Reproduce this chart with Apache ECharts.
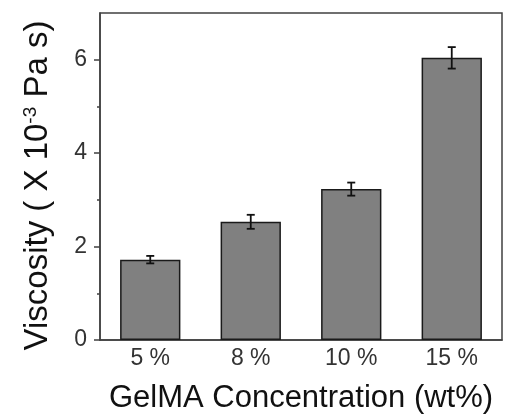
<!DOCTYPE html>
<html>
<head>
<meta charset="utf-8">
<script src="https://cdn.jsdelivr.net/npm/echarts@6/dist/echarts.min.js"></script>
<style>
  html, body { margin: 0; padding: 0; background: #fff; }
  #main { width: 520px; height: 416px; }
</style>
</head>
<body>
<div id="main"></div>
<script>
// GelMA 浓度 vs 粘度
const categories = ['5 %', '8 %', '10 %', '15 %']
const viscosity = [1.72, 2.53, 3.23, 6.04]
const viscosityErr = [0.08, 0.15, 0.14, 0.23]
const yMajorTicks = [0, 2, 4, 6]
const yMinorTicks = [1, 3, 5]

const chart = echarts.init(document.getElementById('main'))

const font = 'Liberation Sans, Arial, sans-serif'
const axisColor = '#404040'

const option = {
  animation: false,
  grid: {
    left: 100,
    right: 18,
    top: 13,
    bottom: 76,
    outerBoundsMode: 'none',
    show: true,
    borderColor: axisColor,
    borderWidth: 1.5,
    backgroundColor: 'transparent'
  },
  xAxis: {
    type: 'category',
    data: categories,
    boundaryGap: true,
    name: 'GelMA Concentration (wt%)',
    nameLocation: 'middle',
    nameGap: 43,
    nameTextStyle: { fontFamily: font, fontSize: 31, color: '#111' },
    axisLine: { lineStyle: { color: axisColor, width: 1.5 } },
    axisTick: { show: false },
    axisLabel: { fontFamily: font, fontSize: 23, color: '#333', margin: 7 },
    splitLine: { show: false }
  },
  yAxis: [
    {
      type: 'value',
      min: 0,
      max: 7,
      interval: 2,
      name: '{t|Viscosity ( X 10}{s|-3}{t| Pa s)}',
      nameLocation: 'middle',
      nameGap: 46,
      nameTextStyle: {
        fontFamily: font,
        color: '#111',
        padding: [0, 18, 0, 0],
        rich: {
          t: { fontFamily: font, fontSize: 33, color: '#111' },
          s: { fontFamily: font, fontSize: 19, color: '#111', verticalAlign: 'top', padding: [0, 0, 14, 0] }
        }
      },
      axisLine: { show: true, lineStyle: { color: axisColor, width: 1.5 } },
      axisTick: { show: true, inside: false, length: 6, customValues: yMajorTicks, lineStyle: { color: axisColor, width: 1.5 } },
      axisLabel: { fontFamily: font, fontSize: 23, color: '#333', margin: 13, customValues: yMajorTicks },
      splitLine: { show: false }
    },
    {
      type: 'value',
      min: 0,
      max: 7,
      interval: 1,
      position: 'left',
      axisLine: { show: false },
      axisTick: { show: true, inside: false, length: 3, customValues: yMinorTicks, lineStyle: { color: axisColor, width: 1.5 } },
      axisLabel: { show: false },
      splitLine: { show: false }
    }
  ],
  series: [
    {
      type: 'bar',
      data: viscosity,
      barWidth: '60%',
      yAxisIndex: 0,
      itemStyle: { color: '#808080', borderColor: '#1a1a1a', borderWidth: 1.5 },
      z: 2
    },
    {
      type: 'custom',
      yAxisIndex: 0,
      data: viscosity.map((v, i) => [i, v - viscosityErr[i], v + viscosityErr[i]]),
      renderItem(params, api) {
        const lo = api.coord([api.value(0), api.value(1)])
        const hi = api.coord([api.value(0), api.value(2)])
        const cap = 4
        const style = { stroke: '#111', lineWidth: 1.8 }
        return {
          type: 'group',
          children: [
            { type: 'line', shape: { x1: hi[0], y1: hi[1], x2: lo[0], y2: lo[1] }, style },
            { type: 'line', shape: { x1: hi[0] - cap, y1: hi[1], x2: hi[0] + cap, y2: hi[1] }, style },
            { type: 'line', shape: { x1: lo[0] - cap, y1: lo[1], x2: lo[0] + cap, y2: lo[1] }, style }
          ]
        }
      },
      z: 3
    }
  ]
}

chart.setOption(option)
</script>
</body>
</html>
